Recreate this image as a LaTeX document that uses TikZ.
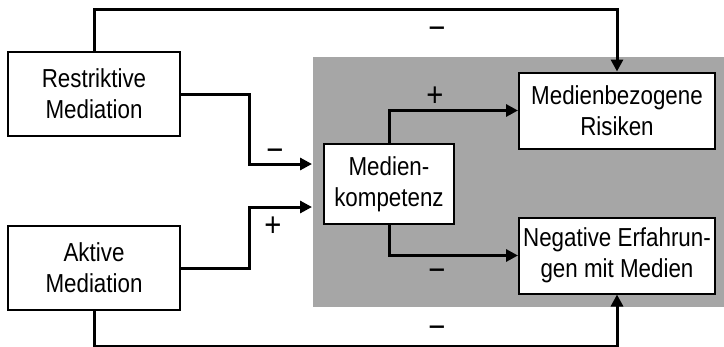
\documentclass[tikz,border=0pt]{standalone}
\usepackage{fontspec}
\setmainfont{Liberation Sans}[FakeStretch=0.86]
\usepackage{tikz}
\usetikzlibrary{arrows.meta,positioning,calc}
\definecolor{panelgray}{RGB}{166,166,166}
\tikzset{
  mbox/.style ={rectangle,draw,line width=2pt,fill=white,
                 minimum width=172pt,minimum height=84pt,inner sep=0pt,
                 align=center,font=\fontsize{26}{31}\selectfont},
  kbox/.style ={mbox,minimum width=130pt,minimum height=80pt},
  obox/.style ={mbox,minimum width=196pt,minimum height=76pt},
  sig/.style  ={-{Triangle[length=12pt,width=12pt]},line width=3pt},
  sgn/.style  ={font=\fontsize{34}{36}\selectfont,inner sep=0pt},
}

\begin{document}
\begin{tikzpicture}[x=1pt,y=-1pt]
  \useasboundingbox (0,0) rectangle (724,346);
  \fill[panelgray] (313,57) rectangle (724,307);
  \node[mbox]                    (rm)   at (94,94)     {Restriktive\\Mediation};
  \node[mbox,below=88pt of rm]   (am)                  {Aktive\\Mediation};
  \node[kbox]                    (mk)   at (389,184)   {Medien-\\kompetenz};
  \node[obox]                    (risk) at (617,110.5) {Medienbezogene\\Risiken};
  \node[obox,below=67pt of risk] (neg)                 {Negative Erfahrun-\\gen mit Medien};
  \draw[sig](rm.north) -- ++(0,-42) -| (risk.north);
  \draw[sig](am.south) -- ++(0,35) -| (neg.south);
  \draw[sig,shorten >=11pt](rm.east) -- ++(68,0) |- ([yshift=20pt]mk.west);
  \draw[sig,shorten >=11pt](am.east) -- ++(68,0) |- ([yshift=-23pt]mk.west);
  \draw[sig](mk.north) |- (risk.west);
  \draw[sig](mk.south) |- (neg.west);
  % signs
  \node[sgn] (s1) at (437,33)  {−};
  \node[sgn] (s2) at (275,155) {−};
  \node[sgn] (s3) at (273,227) {+};
  \node[sgn] (s4) at (435,97)  {+};
  \node[sgn] (s5) at (437,275) {−};
  \node[sgn] (s6) at (437,332) {−};
\end{tikzpicture}
\end{document}
